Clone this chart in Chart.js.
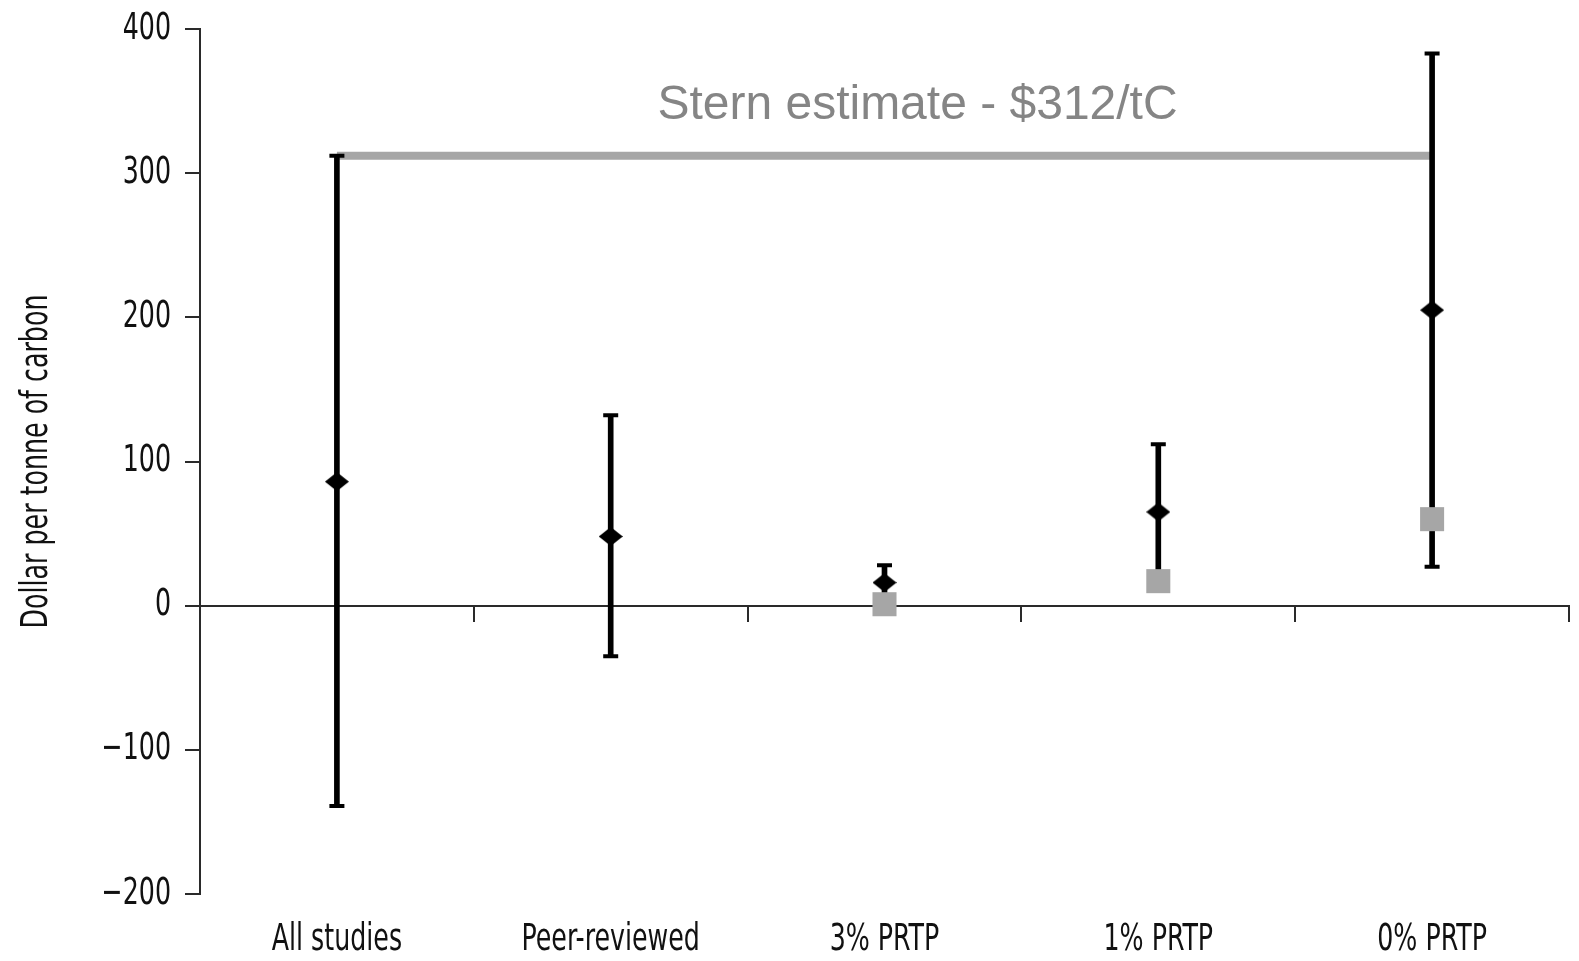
<!DOCTYPE html>
<html>
<head>
<meta charset="utf-8">
<style>
  html, body { margin: 0; padding: 0; background: #ffffff; }
  #wrap { width: 1579px; height: 961px; position: relative; }
</style>
<script src="https://cdn.jsdelivr.net/npm/chart.js@4.4.1/dist/chart.umd.min.js"></script>
</head>
<body>
<div id="wrap"><canvas id="c" width="1579" height="961"></canvas></div>
<script>
// ---- data ----
const categories = ['All studies', 'Peer-reviewed', '3% PRTP', '1% PRTP', '0% PRTP'];
const meanValues = [86, 48, 16, 65, 205];           // black diamonds
const highValues = [312, 132, 28, 112, 383];        // upper error bounds
const lowValues  = [-139, -35, 1, 17, 27];          // lower error bounds
const lowCaps    = [-139, -35, null, null, 27];     // visible lower caps
const squareValues = [null, null, 1, 17, 60];       // grey squares
const sternValue = 312;
const sternLabel = 'Stern estimate - $312/tC';
const yTicks = [-200, -100, 0, 100, 200, 300, 400];
const yTitle = 'Dollar per tonne of carbon';

const narrow = '"Liberation Sans Narrow", "Arial Narrow", "DejaVu Sans Condensed", sans-serif';
const TEXT_SX = 0.76; // horizontal squeeze to mimic a condensed face

function makeDiamond(w, h) {
  const cv = document.createElement('canvas');
  cv.width = w; cv.height = h;
  const g = cv.getContext('2d');
  g.fillStyle = '#000';
  g.beginPath();
  g.moveTo(w / 2, 0); g.lineTo(w, h / 2); g.lineTo(w / 2, h); g.lineTo(0, h / 2);
  g.closePath(); g.fill();
  return cv;
}
const diamond = makeDiamond(24, 19);

const condensedText = {
  id: 'condensedText',
  beforeDraw(chart) {
    const ctx = chart.ctx;
    if (!ctx.__origFill) ctx.__origFill = ctx.fillText;
    const orig = ctx.__origFill;
    ctx.fillText = function (t, x, y, ...rest) {
      this.save();
      this.translate(x, y);
      this.scale(TEXT_SX, 1);
      orig.call(this, t, 0, 0, ...rest);
      this.restore();
    };
  },
  afterDraw(chart) {
    const ctx = chart.ctx;
    if (ctx.__origFill) ctx.fillText = ctx.__origFill;
  }
};

const sternText = {
  id: 'sternText',
  afterDatasetsDraw(chart) {
    const {ctx, scales} = chart;
    const x = (scales.x.getPixelForValue(0) + scales.x.getPixelForValue(4)) / 2 + 33;
    const y = scales.y.getPixelForValue(337.5);
    const fill = ctx.__origFill || ctx.fillText;
    ctx.save();
    ctx.font = '48px "Liberation Sans", Arial, sans-serif';
    ctx.fillStyle = '#858585';
    ctx.textAlign = 'center';
    ctx.textBaseline = 'alphabetic';
    fill.call(ctx, sternLabel, x, y);
    ctx.restore();
  }
};

function zeroPad(s) { s.paddingLeft = 0; s.paddingRight = 0; s.paddingTop = 0; s.paddingBottom = 0; }

new Chart(document.getElementById('c'), {
  data: {
    labels: categories,
    datasets: [
      {
        type: 'line', label: 'Stern', data: categories.map(() => sternValue),
        borderColor: '#a6a6a6', borderWidth: 8, pointRadius: 0, order: 10, borderCapStyle: 'butt'
      },
      {
        type: 'bar', label: 'range', data: lowValues.map((v, i) => [v, highValues[i]]),
        backgroundColor: '#000', borderWidth: 0, barThickness: 5, order: 8
      },
      {
        type: 'line', label: 'hiCap', data: highValues, showLine: false,
        pointStyle: 'line', pointRadius: 7.5, pointBorderWidth: 4, pointBorderColor: '#000', order: 7
      },
      {
        type: 'line', label: 'loCap', data: lowCaps, showLine: false,
        pointStyle: 'line', pointRadius: 7.5, pointBorderWidth: 4, pointBorderColor: '#000', order: 7
      },
      {
        type: 'line', label: 'square', data: squareValues, showLine: false,
        pointStyle: 'rect', pointRadius: 17, pointBackgroundColor: '#a6a6a6', pointBorderWidth: 0, order: 3
      },
      {
        type: 'line', label: 'mean', data: meanValues, showLine: false,
        pointStyle: diamond, pointRadius: 12, order: 1
      }
    ]
  },
  options: {
    responsive: false,
    animation: false,
    events: [],
    layout: { autoPadding: false, padding: { top: 29, right: 10, left: 0, bottom: 0 } },
    plugins: { legend: { display: false }, tooltip: { enabled: false }, title: { display: false } },
    scales: {
      x: {
        type: 'category',
        offset: true,
        border: { display: false },
        grid: { display: false, drawTicks: false },
        ticks: { color: '#111', font: { family: narrow, size: 37 }, padding: 24, maxRotation: 0, autoSkip: false },
        afterFit(s) { s.height = 67; zeroPad(s); }
      },
      x0: {
        type: 'category',
        axis: 'x',
        labels: categories,
        offset: true,
        position: { y: 0 },
        border: { display: true, color: '#2a2a2a', width: 2 },
        grid: { display: true, offset: true, drawOnChartArea: false, drawTicks: true, tickLength: 15, color: '#2a2a2a', lineWidth: 2 },
        ticks: { display: false },
        afterFit(s) { zeroPad(s); }
      },
      y: {
        type: 'linear',
        min: -200, max: 400,
        afterBuildTicks(s) { s.ticks = yTicks.map(v => ({ value: v })); },
        border: { display: true, color: '#2a2a2a', width: 2 },
        grid: { display: true, drawOnChartArea: false, drawTicks: true, tickLength: 15, color: '#2a2a2a', lineWidth: 2 },
        ticks: {
          color: '#111', font: { family: narrow, size: 37 }, padding: 14,
          callback: v => (v < 0 ? '\u2212' + Math.abs(v) : String(v))
        },
        title: { display: true, text: yTitle, color: '#111', font: { family: narrow, size: 37 }, padding: { top: 15, bottom: 0 } },
        afterFit(s) { s.width = 200; zeroPad(s); }
      }
    }
  },
  plugins: [condensedText, sternText]
});
</script>
</body>
</html>
